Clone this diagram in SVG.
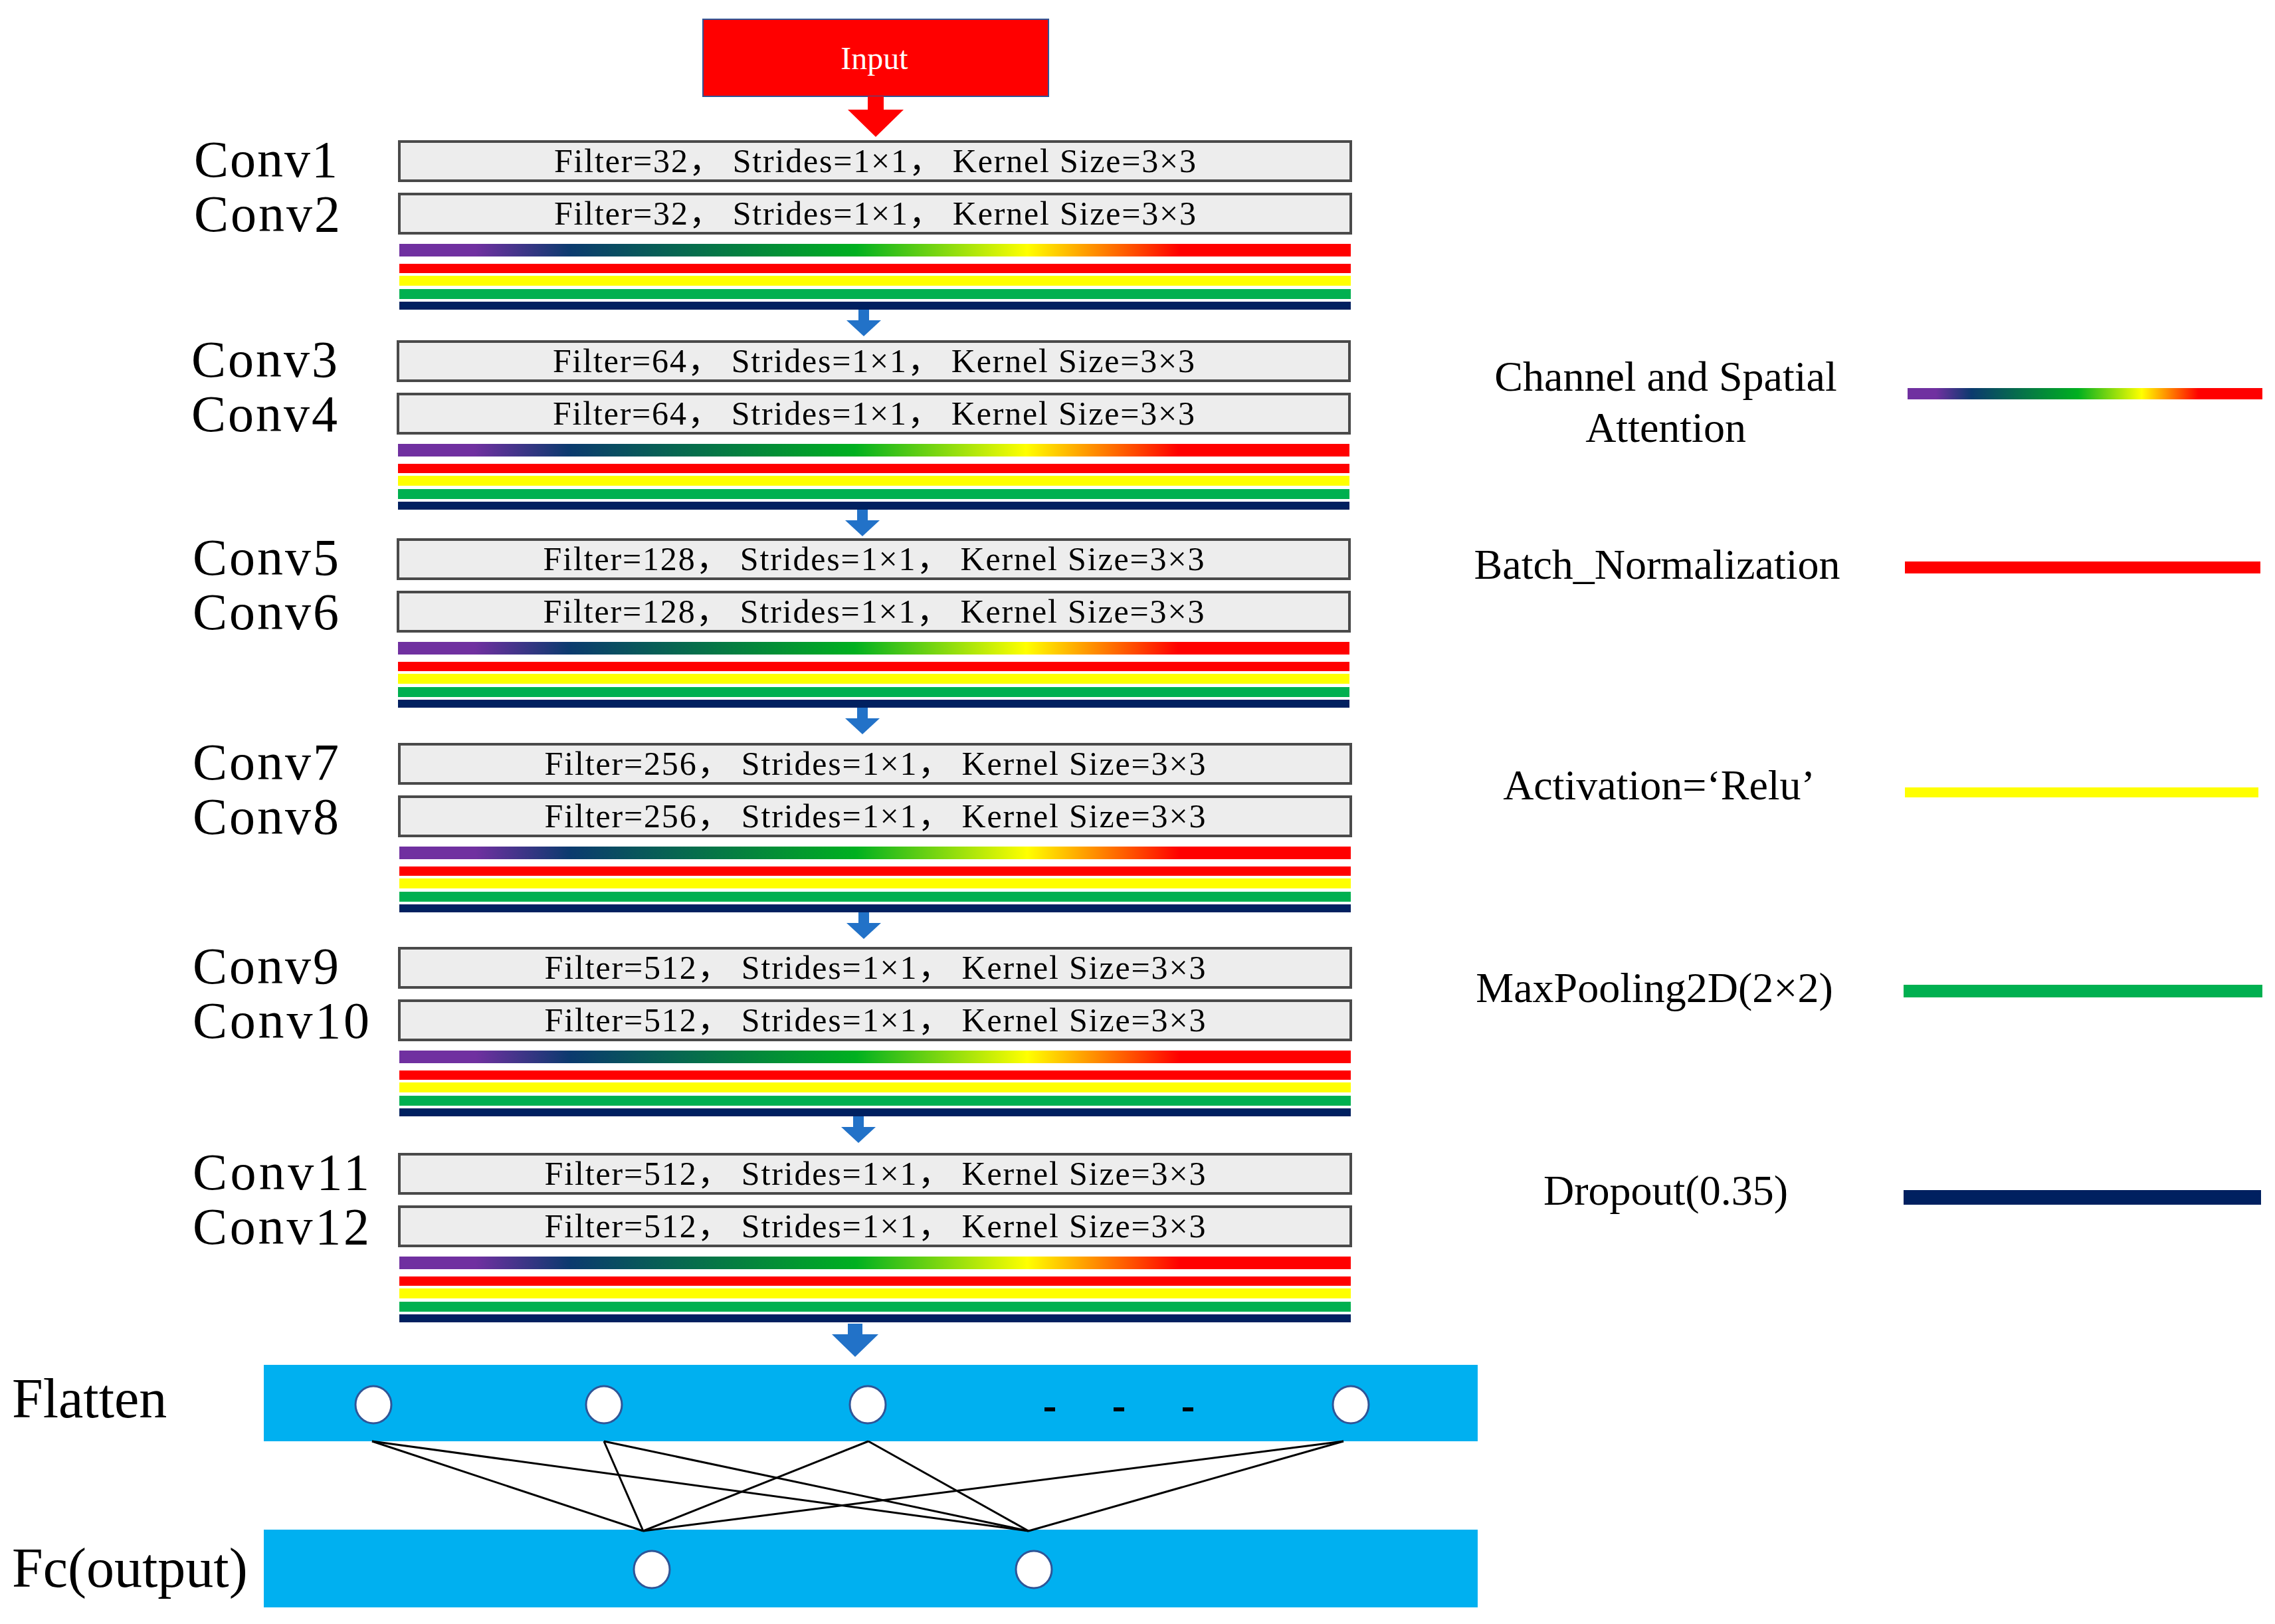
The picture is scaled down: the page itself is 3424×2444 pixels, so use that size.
<svg xmlns="http://www.w3.org/2000/svg" width="3424" height="2444" viewBox="0 0 3424 2444">
<defs>
<linearGradient id="rb" x1="0" x2="1" y1="0" y2="0">
<stop offset="0" stop-color="#7030A0"/><stop offset="0.08" stop-color="#7030A0"/><stop offset="0.18" stop-color="#0B3A6E"/><stop offset="0.48" stop-color="#00B020"/><stop offset="0.66" stop-color="#FFFF00"/><stop offset="0.82" stop-color="#FF0000"/><stop offset="1" stop-color="#FF0000"/>
</linearGradient>
<style>
.lab{font-family:"Liberation Serif","Times New Roman",serif;font-size:78px;fill:#000}
.wl{font-family:"Liberation Serif","Times New Roman",serif;font-size:84px;fill:#000}
.bt{font-family:"Liberation Serif","Noto Sans CJK SC",serif;font-size:50px;fill:#000;text-anchor:middle}
.lg{font-family:"Liberation Serif",serif;font-size:64px;fill:#000;text-anchor:middle}
.box{fill:#EDEDED;stroke:#4a4a4a;stroke-width:4}
.ba{fill:#2272C8}
.nd{fill:#fff;stroke:#2F5597;stroke-width:3}
.ln{stroke:#000;stroke-width:3;fill:none}
</style>
<g id="blk">
<rect class="box" x="0" y="0" width="1432" height="59"/>
<rect class="box" x="0" y="79" width="1432" height="59"/>
<rect x="0" y="154" width="1432" height="19" fill="url(#rb)"/>
<rect x="0" y="184" width="1432" height="14" fill="#FF0000"/>
<rect x="0" y="202" width="1432" height="15" fill="#FFFF00"/>
<rect x="0" y="222" width="1432" height="15" fill="#00B050"/>
<rect x="0" y="241" width="1432" height="12" fill="#002060"/>
</g>
</defs>
<rect width="3424" height="2444" fill="#fff"/>
<g id="input">
<rect x="1058" y="29" width="520" height="116" fill="#FF0000" stroke="#2F5597" stroke-width="2"/>
<text x="1316" y="104" font-family="Liberation Serif,serif" font-size="48" fill="#fff" text-anchor="middle">Input</text>
<polygon points="1306,145 1330,145 1330,165 1360,165 1318,206 1276,165 1306,165" fill="#FF0000"/>
</g>
<g id="g1"><use href="#blk" x="601" y="213"/>
<text class="bt" x="1317" y="259" textLength="966">Filter=32， Strides=1×1， Kernel  Size=3×3</text>
<text class="bt" x="1317" y="338" textLength="966">Filter=32， Strides=1×1， Kernel  Size=3×3</text>
<text class="lab" x="292" y="266" textLength="216">Conv1</text><text class="lab" x="292" y="348" textLength="220">Conv2</text></g>
<g id="g2"><use href="#blk" x="599" y="514"/>
<text class="bt" x="1315" y="560" textLength="966">Filter=64， Strides=1×1， Kernel  Size=3×3</text>
<text class="bt" x="1315" y="639" textLength="966">Filter=64， Strides=1×1， Kernel  Size=3×3</text>
<text class="lab" x="288" y="567" textLength="220">Conv3</text><text class="lab" x="288" y="649" textLength="220">Conv4</text></g>
<g id="g3"><use href="#blk" x="599" y="812"/>
<text class="bt" x="1315" y="858" textLength="995">Filter=128， Strides=1×1， Kernel  Size=3×3</text>
<text class="bt" x="1315" y="937" textLength="995">Filter=128， Strides=1×1， Kernel  Size=3×3</text>
<text class="lab" x="290" y="865" textLength="220">Conv5</text><text class="lab" x="290" y="947" textLength="220">Conv6</text></g>
<g id="g4"><use href="#blk" x="601" y="1120"/>
<text class="bt" x="1317" y="1166" textLength="995">Filter=256， Strides=1×1， Kernel  Size=3×3</text>
<text class="bt" x="1317" y="1245" textLength="995">Filter=256， Strides=1×1， Kernel  Size=3×3</text>
<text class="lab" x="290" y="1173" textLength="220">Conv7</text><text class="lab" x="290" y="1255" textLength="220">Conv8</text></g>
<g id="g5"><use href="#blk" x="601" y="1427"/>
<text class="bt" x="1317" y="1473" textLength="995">Filter=512， Strides=1×1， Kernel  Size=3×3</text>
<text class="bt" x="1317" y="1552" textLength="995">Filter=512， Strides=1×1， Kernel  Size=3×3</text>
<text class="lab" x="290" y="1480" textLength="220">Conv9</text><text class="lab" x="290" y="1562" textLength="266">Conv10</text></g>
<g id="g6"><use href="#blk" x="601" y="1737"/>
<text class="bt" x="1317" y="1783" textLength="995">Filter=512， Strides=1×1， Kernel  Size=3×3</text>
<text class="bt" x="1317" y="1862" textLength="995">Filter=512， Strides=1×1， Kernel  Size=3×3</text>
<text class="lab" x="290" y="1790" textLength="266">Conv11</text><text class="lab" x="290" y="1872" textLength="266">Conv12</text></g>
<g id="arrows">
<polygon class="ba" points="1292,466 1308,466 1308,482 1326,482 1300,506 1274,482 1292,482"/>
<polygon class="ba" points="1290,767 1306,767 1306,783 1324,783 1298,807 1272,783 1290,783"/>
<polygon class="ba" points="1290,1065 1306,1065 1306,1081 1324,1081 1298,1105 1272,1081 1290,1081"/>
<polygon class="ba" points="1292,1373 1308,1373 1308,1389 1326,1389 1300,1413 1274,1389 1292,1389"/>
<polygon class="ba" points="1284,1680 1300,1680 1300,1696 1318,1696 1292,1720 1266,1696 1284,1696"/>
<polygon class="ba" points="1276,1992 1298,1992 1298,2008 1322,2008 1287,2042 1252,2008 1276,2008"/>
</g>
<g id="flatten">
<rect x="397" y="2054" width="1827" height="115" fill="#00B0F0"/>
<ellipse class="nd" cx="562" cy="2114" rx="27" ry="28"/>
<ellipse class="nd" cx="909" cy="2114" rx="27" ry="28"/>
<ellipse class="nd" cx="1306" cy="2114" rx="27" ry="28"/>
<ellipse class="nd" cx="2033" cy="2114" rx="27" ry="28"/>
<rect x="1572" y="2118" width="16" height="6" fill="#000"/>
<rect x="1676" y="2118" width="16" height="6" fill="#000"/>
<rect x="1780" y="2118" width="16" height="6" fill="#000"/>
<text class="wl" x="18" y="2133">Flatten</text>
</g>
<g id="fc">
<rect x="397" y="2302" width="1827" height="117" fill="#00B0F0"/>
<ellipse class="nd" cx="981" cy="2362" rx="27" ry="28"/>
<ellipse class="nd" cx="1556" cy="2362" rx="27" ry="28"/>
<text class="wl" x="18" y="2388">Fc(output)</text>
</g>
<g id="connectors">
<line class="ln" x1="560" y1="2169" x2="968" y2="2304"/>
<line class="ln" x1="560" y1="2169" x2="1548" y2="2304"/>
<line class="ln" x1="909" y1="2169" x2="968" y2="2304"/>
<line class="ln" x1="909" y1="2169" x2="1548" y2="2304"/>
<line class="ln" x1="1307" y1="2169" x2="968" y2="2304"/>
<line class="ln" x1="1307" y1="2169" x2="1548" y2="2304"/>
<line class="ln" x1="2022" y1="2169" x2="968" y2="2304"/>
<line class="ln" x1="2022" y1="2169" x2="1548" y2="2304"/>
</g>
<g id="legend">
<text class="lg" x="2507" y="588">Channel and Spatial</text>
<text class="lg" x="2507" y="665">Attention</text>
<rect x="2871" y="584" width="534" height="17" fill="url(#rb)"/>
<text class="lg" x="2494" y="871">Batch_Normalization</text>
<rect x="2867" y="845" width="535" height="18" fill="#FF0000"/>
<text class="lg" x="2497" y="1203">Activation=‘Relu’</text>
<rect x="2867" y="1185" width="532" height="15" fill="#FFFF00"/>
<text class="lg" x="2490" y="1508">MaxPooling2D(2×2)</text>
<rect x="2865" y="1482" width="540" height="19" fill="#00B050"/>
<text class="lg" x="2507" y="1813">Dropout(0.35)</text>
<rect x="2865" y="1791" width="538" height="22" fill="#002060"/>
</g>
</svg>
